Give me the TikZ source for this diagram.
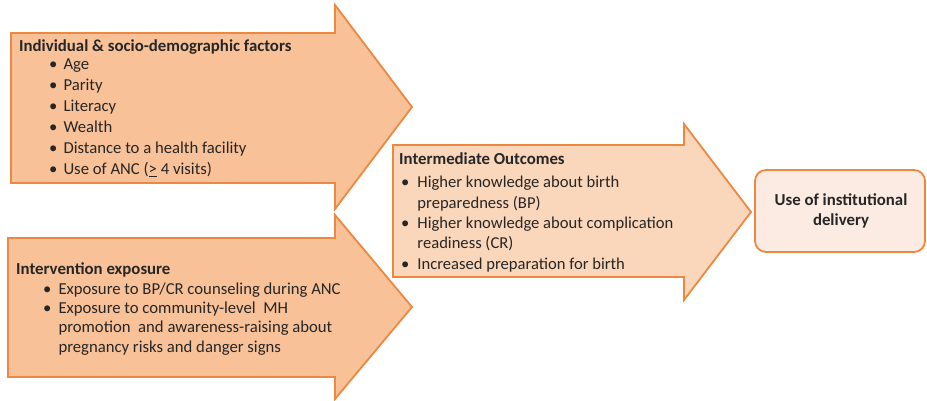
\documentclass[tikz,border=0pt]{standalone}
\usepackage{fontspec}
\setmainfont{Carlito}
\definecolor{aborder}{HTML}{EE8840}
\definecolor{afill}{HTML}{F8C198}
\definecolor{mfill}{HTML}{FAD6BB}
\definecolor{bfill}{HTML}{FCEBE3}
\definecolor{txt}{HTML}{262626}
\begin{document}
\begin{tikzpicture}[x=1pt,y=-1pt,
  shapeline/.style={draw=aborder,line width=1.8pt,line join=miter},
  ttl/.style={anchor=base west,inner sep=0pt,text=txt,font=\fontsize{16.8}{20}\selectfont\bfseries},
  lst/.style={anchor=base west,inner sep=0pt,text=txt},
]
\useasboundingbox (0,0) rectangle (927,401);
% arrows
\path[shapeline,fill=afill] (11,33) -- (335,33) -- (335,5) -- (412,107) -- (335,209) -- (335,183) -- (11,183) -- cycle;
\path[shapeline,fill=afill] (8,238) -- (335,238) -- (335,215) -- (412,307) -- (335,399) -- (335,377) -- (8,377) -- cycle;
\path[shapeline,fill=mfill] (393,145) -- (684,145) -- (684,124) -- (751,212) -- (684,300) -- (684,277) -- (393,277) -- cycle;
% outcome box
\node[draw=aborder,line width=1.8pt,fill=bfill,rounded corners=11pt,minimum width=170pt,minimum height=82pt,inner sep=0pt] (out) at (840,211) {};
\node[align=center,text=txt,font=\fontsize{16.8}{20}\selectfont\bfseries,inner sep=0pt] (outt) at (841,211) {Use of institutional\\delivery};
% arrow 1 text
\node[ttl] (t1) at (19,52) {Individual \& socio-demographic factors};
\node[lst,font=\fontsize{16.7}{21}\selectfont] (l1) at (49,70) {\begin{tabular}[t]{@{}l@{\hspace{6pt}}l@{}}
\textbullet & Age\\
\textbullet & Parity\\
\textbullet & Literacy\\
\textbullet & Wealth\\
\textbullet & Distance to a health facility\\
\textbullet & Use of ANC (\underline{>} 4 visits)
\end{tabular}};
% arrow 2 text
\node[ttl] (t2) at (16,274) {Intervention exposure};
\node[lst,font=\fontsize{16.7}{19.4}\selectfont] (l2) at (43,294) {\begin{tabular}[t]{@{}l@{\hspace{7pt}}l@{}}
\textbullet & Exposure to BP/CR counseling during ANC\\
\textbullet & Exposure to community-level\ \ MH\\
 & promotion\ \ and awareness-raising about\\
 & pregnancy risks and danger signs
\end{tabular}};
% arrow 3 text
\node[ttl] (t3) at (399,165) {Intermediate Outcomes};
\node[lst,font=\fontsize{16.6}{20.3}\selectfont] (l3) at (401,188) {\begin{tabular}[t]{@{}l@{\hspace{8pt}}l@{}}
\textbullet & Higher knowledge about birth\\
 & preparedness (BP)\\
\textbullet & Higher knowledge about complication\\
 & readiness (CR)\\
\textbullet & Increased preparation\ for birth
\end{tabular}};
\end{tikzpicture}
\end{document}
